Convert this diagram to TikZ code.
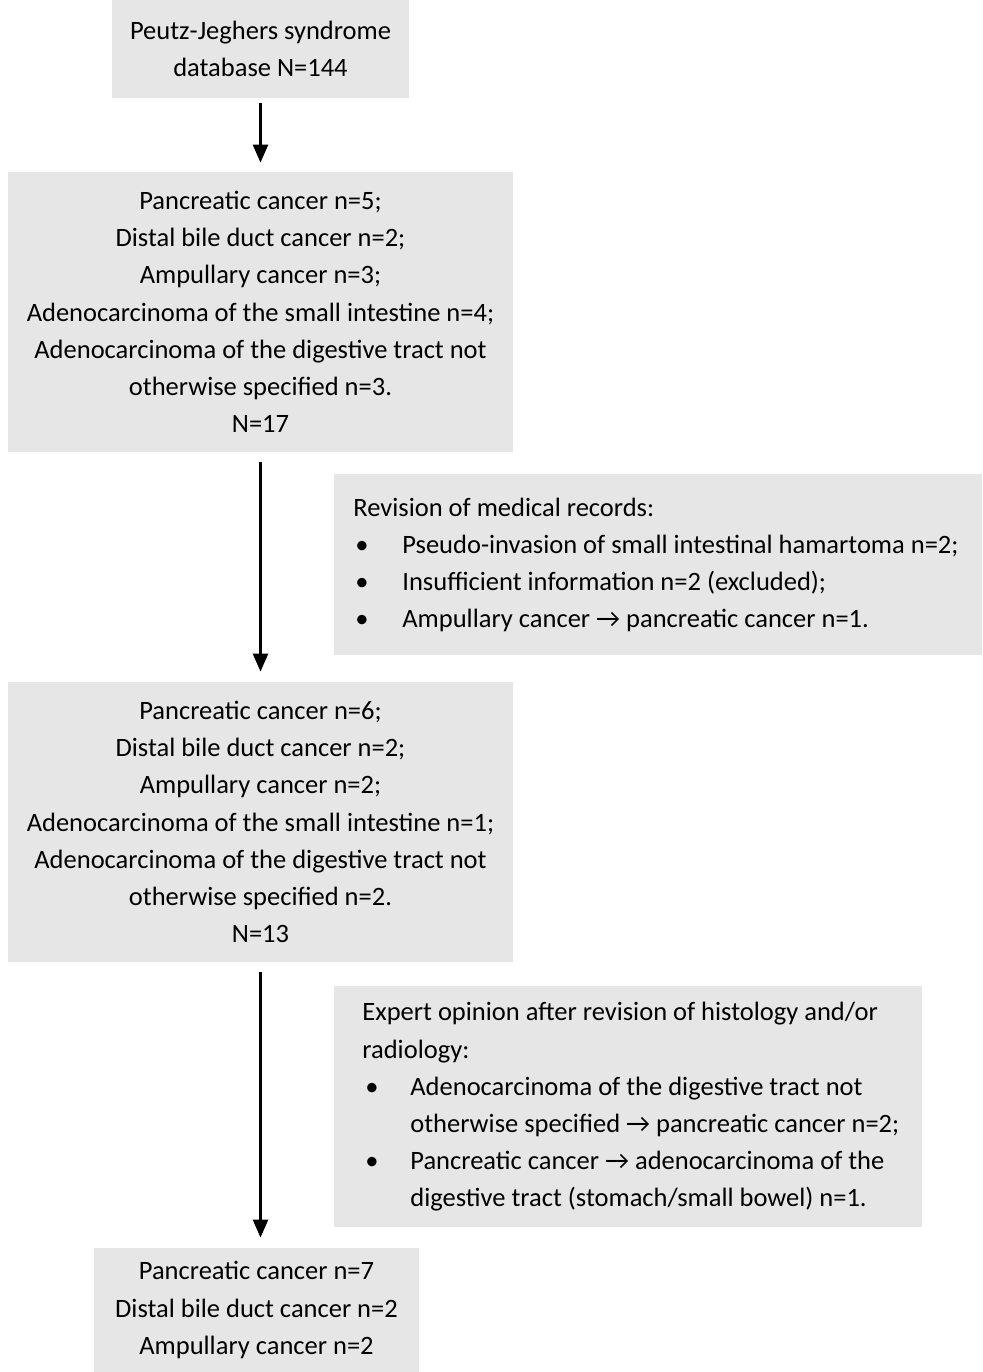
\documentclass[tikz,border=0pt]{standalone}
\usepackage{fontspec}
\setmainfont{Carlito}
\usetikzlibrary{arrows.meta, positioning}
\definecolor{boxgrey}{HTML}{E7E6E6}

\newcommand{\bul}[2]{\hspace*{#1}\makebox[#2][l]{\textbullet}}

\tikzset{
  box/.style={fill=boxgrey, inner sep=0pt, align=center, font=\fontsize{13.25}{18.6}\selectfont},
  sidebox/.style={fill=boxgrey, inner ysep=0pt, anchor=north west, align=flush left, font=\fontsize{13.25}{18.6}\selectfont},
  flow/.style={-{Triangle[length=9pt,width=7.5pt]}, line width=1.25pt, shorten <=5pt, shorten >=5pt}
}

\begin{document}
\begin{tikzpicture}[x=0.5pt, y=-0.5pt]
\useasboundingbox (0,0) rectangle (982,1372);

% main column
\node[box, minimum width=148.5pt, minimum height=49pt] (n1) at (260.5,49)
  {Peutz-Jeghers syndrome\\ database N=144};
\node[box, minimum width=252.5pt, minimum height=140pt] (n2) at (260.5,312)
  {Pancreatic cancer n=5;\\ Distal bile duct cancer n=2;\\ Ampullary cancer n=3;\\
   Adenocarcinoma of the small intestine n=4;\\ Adenocarcinoma of the digestive tract not\\
   otherwise specified n=3.\\ N=17};
\node[box, minimum width=252.5pt, minimum height=140pt] (n3) at (260.5,822)
  {Pancreatic cancer n=6;\\ Distal bile duct cancer n=2;\\ Ampullary cancer n=2;\\
   Adenocarcinoma of the small intestine n=1;\\ Adenocarcinoma of the digestive tract not\\
   otherwise specified n=2.\\ N=13};
\node[box, minimum width=162.5pt, minimum height=62pt] (n4) at (256.5,1310)
  {Pancreatic cancer n=7\\ Distal bile duct cancer n=2\\ Ampullary cancer n=2};

% revisions on the side
\node[sidebox, inner xsep=9.5pt, text width=305pt, minimum height=90.5pt] (r1) at (334,474)
  {Revision of medical records:\\
   \bul{1pt}{23.5pt}\mbox{Pseudo-invasion of small intestinal hamartoma n=2;}\\
   \bul{1pt}{23.5pt}Insufficient information n=2 (excluded);\\
   \bul{1pt}{23.5pt}Ampullary cancer → pancreatic cancer n=1.};
\node[sidebox, inner xsep=14pt, text width=266pt, minimum height=120.5pt] (r2) at (334,986)
  {Expert opinion after revision of histology and/or\\ radiology:\\
   \bul{1.5pt}{22.5pt}Adenocarcinoma of the digestive tract not\\
   \hspace*{24pt}\mbox{otherwise specified → pancreatic cancer n=2;}\\
   \bul{1.5pt}{22.5pt}Pancreatic cancer → adenocarcinoma of the\\
   \hspace*{24pt}\mbox{digestive tract (stomach/small bowel) n=1.}};

\draw[flow, shorten <=2.5pt, shorten >=4.5pt] (n1) -- (n2);
\draw[flow] (n2) -- (n3);
\draw[flow] (n3) -- (n3 |- n4.north);
\end{tikzpicture}
\end{document}
